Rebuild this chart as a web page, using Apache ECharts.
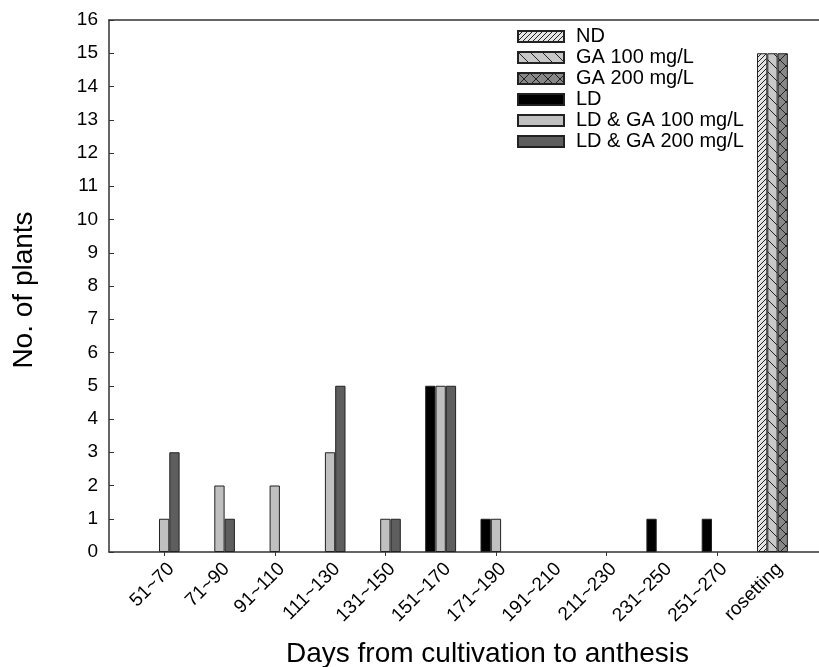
<!DOCTYPE html>
<html><head><meta charset="utf-8">
<script src="https://cdn.jsdelivr.net/npm/echarts/dist/echarts.min.js"></script>
<style>html,body{margin:0;padding:0;background:#fff}#c{width:819px;height:667px}</style>
</head><body><div id="c"></div>
<script>
const categories = ['51~70','71~90','91~110','111~130','131~150','151~170','171~190','191~210','211~230','231~250','251~270','rosetting'];
const seriesNames = ['ND','GA 100 mg/L','GA 200 mg/L','LD','LD & GA 100 mg/L','LD & GA 200 mg/L'];
const ND        = [0,0,0,0,0,0,0,0,0,0,0,15];
const GA100     = [0,0,0,0,0,0,0,0,0,0,0,15];
const GA200     = [0,0,0,0,0,0,0,0,0,0,0,15];
const LD        = [0,0,0,0,0,5,1,0,0,1,1,0];
const LD_GA100  = [1,2,2,3,1,5,1,0,0,0,0,0];
const LD_GA200  = [3,1,0,5,1,5,0,0,0,0,0,0];
const yMin = 0, yMax = 16, yStep = 1;

const FONT = '"Liberation Sans", Arial, sans-serif';

function pattern(bg, size, draw) {
  const c = document.createElement('canvas');
  c.width = size; c.height = size;
  const g = c.getContext('2d');
  g.fillStyle = bg; g.fillRect(0,0,size,size);
  g.strokeStyle = '#222'; g.lineWidth = 1;
  draw(g, size);
  return { image: c, repeat: 'repeat' };
}
const fwd = (g,s) => { g.beginPath(); g.moveTo(-1,s+1); g.lineTo(s+1,-1); g.moveTo(-1,1); g.lineTo(1,-1); g.moveTo(s-1,s+1); g.lineTo(s+1,s-1); g.stroke(); };
const back = (g,s) => { g.beginPath(); g.moveTo(-1,-1); g.lineTo(s+1,s+1); g.moveTo(s-1,-1); g.lineTo(s+1,1); g.moveTo(-1,s-1); g.lineTo(1,s+1); g.stroke(); };

const fills = [
  pattern('#e4e4e4', 5, fwd),
  pattern('#c8c8c8', 12, back),
  pattern('#888888', 12, (g,s)=>{fwd(g,s);back(g,s);}),
  '#000000',
  '#c0c0c0',
  '#5e5e5e'
];
const dataSets = [ND, GA100, GA200, LD, LD_GA100, LD_GA200];
const stacks = ['a','b','c','a','b','c'];

const axisLineStyle = { color: '#333', width: 1.5 };

const chart = echarts.init(document.getElementById('c'), null, { renderer: 'canvas' });
chart.setOption({
  animation: false,
  backgroundColor: '#fff',
  textStyle: { fontFamily: FONT },
  grid: [
    { left: 109, right: 0, top: 20, bottom: 115 },
    { left: 136.5, width: 663.6, top: 20, bottom: 115 },
    { left: 143.5, width: 663.6, top: 20, bottom: 115 }
  ],
  xAxis: [
    { gridIndex: 0, type: 'value', min: 0, max: 1, position: 'bottom',
      axisLine: { show: true, onZero: false, lineStyle: axisLineStyle },
      axisTick: { show: false }, axisLabel: { show: false }, splitLine: { show: false } },
    { gridIndex: 0, type: 'value', min: 0, max: 1, position: 'top',
      axisLine: { show: true, onZero: false, lineStyle: axisLineStyle },
      axisTick: { show: false }, axisLabel: { show: false }, splitLine: { show: false } },
    { gridIndex: 1, type: 'category', data: categories,
      axisLine: { show: false, onZero: false },
      axisTick: { show: true, alignWithLabel: true, length: 4, lineStyle: { color: '#333' } },
      axisLabel: { show: false }, splitLine: { show: false } },
    { gridIndex: 2, type: 'category', data: categories,
      axisLine: { show: false, onZero: false }, axisTick: { show: false },
      axisLabel: { show: true, rotate: 45, margin: 14, fontSize: 19, color: '#000', fontFamily: FONT, interval: 0 },
      splitLine: { show: false } }
  ],
  yAxis: [
    { gridIndex: 0, type: 'value', min: yMin, max: yMax, interval: yStep,
      axisLine: { show: true, onZero: false, lineStyle: axisLineStyle },
      axisTick: { show: true, inside: true, length: 5, lineStyle: { color: '#333', width: 1 } },
      axisLabel: { fontSize: 19, margin: 11, color: '#000', fontFamily: FONT },
      splitLine: { show: false } },
    { gridIndex: 1, type: 'value', min: yMin, max: yMax, show: false, splitLine: { show: false } },
    { gridIndex: 2, type: 'value', min: yMin, max: yMax, show: false, splitLine: { show: false } }
  ],
  legend: {
    orient: 'vertical', left: 517, top: 26, padding: 0,
    itemWidth: 46, itemHeight: 11, itemGap: 0,
    icon: 'rect',
    textStyle: { fontSize: 20, lineHeight: 21, color: '#000', fontFamily: FONT, padding: [0,0,0,7] },
    data: seriesNames
  },
  series: seriesNames.map((name, i) => ({
    name, type: 'bar', xAxisIndex: 2, yAxisIndex: 1,
    stack: stacks[i], barWidth: 10.3, barGap: '0%',
    data: dataSets[i].map(v => v === 0 ? { value: v, itemStyle: { opacity: 0 } } : v),
    itemStyle: { color: fills[i], borderColor: '#222', borderWidth: 1 }
  })),
  graphic: [
    { type: 'text', x: 24, y: 290, rotation: Math.PI / 2,
      style: { text: 'No. of plants', fontSize: 28, fontFamily: FONT, fill: '#000',
               align: 'center', verticalAlign: 'middle', textAlign: 'center', textVerticalAlign: 'middle' } },
    { type: 'text', x: 487.5, y: 654,
      style: { text: 'Days from cultivation to anthesis', fontSize: 28, fontFamily: FONT, fill: '#000',
               align: 'center', verticalAlign: 'middle', textAlign: 'center', textVerticalAlign: 'middle' } }
  ]
});
</script>
</body></html>
